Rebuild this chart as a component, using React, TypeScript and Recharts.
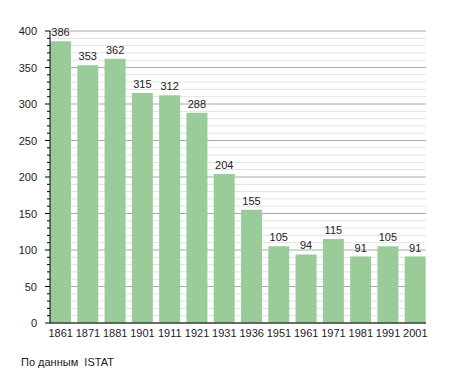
import React from 'react';
import { BarChart, Bar, XAxis, YAxis, CartesianGrid, LabelList } from 'recharts';

// population by census year
const years = ['1861', '1871', '1881', '1901', '1911', '1921', '1931', '1936', '1951', '1961', '1971', '1981', '1991', '2001'];
const population = [386, 353, 362, 315, 312, 288, 204, 155, 105, 94, 115, 91, 105, 91];
const yTicks = [0, 10, 20, 30, 40, 50, 60, 70, 80, 90, 100, 110, 120, 130, 140, 150, 160, 170, 180, 190, 200, 210, 220, 230, 240, 250, 260, 270, 280, 290, 300, 310, 320, 330, 340, 350, 360, 370, 380, 390, 400];
const sourceNote = 'По данным  ISTAT';

const FONT = '"Liberation Sans", Arial, sans-serif';

const data = years.map((year, i) => ({ year, value: population[i] }));

const YTick = (props: any) => {
  const { x, y, payload } = props;
  const major = payload.value % 50 === 0;
  const axisX = x + 8;
  return (
    <g>
      <line x1={axisX - (major ? 5 : 3)} x2={axisX} y1={y} y2={y} stroke="#000" strokeWidth={1} />
      {major && (
        <text x={axisX - 13} y={y} dy={4} textAnchor="end" fontSize={11} fill="#222" fontFamily={FONT}>
          {payload.value}
        </text>
      )}
    </g>
  );
};

const GridLine = (props: any) => {
  const { x1, x2, y1, y2, index } = props;
  const major = index % 5 === 0;
  return (
    <line
      x1={x1}
      x2={x2}
      y1={y1}
      y2={y2}
      stroke={major ? '#a8a8a8' : '#e2e2e2'}
      strokeWidth={1}
    />
  );
};

export default function App() {
  return (
    <div style={{ position: 'absolute', left: 0, top: 0, width: 455, height: 373, background: '#fff' }}>
      <BarChart
        width={455}
        height={373}
        data={data}
        margin={{ top: 31, right: 29, bottom: 30, left: 0 }}
        barSize={21}
      >
        <CartesianGrid vertical={false} horizontal={GridLine} />
        <XAxis
          dataKey="year"
          interval={0}
          padding={{ left: -3, right: -3 }}
          height={20}
          axisLine={{ stroke: '#000' }}
          tickLine={false}
          tick={{ fontSize: 11, fill: '#222', fontFamily: FONT }}
          tickMargin={0}
        />
        <YAxis
          width={50}
          domain={[0, 400]}
          ticks={yTicks}
          interval={0}
          axisLine={{ stroke: '#000' }}
          tickLine={false}
          tick={<YTick />}
        />
        <Bar dataKey="value" fill="#99cc99" isAnimationActive={false}>
          <LabelList dataKey="value" position="top" offset={5} fontSize={11} fill="#222" fontFamily={FONT} />
        </Bar>
      </BarChart>
      <div style={{ position: 'absolute', left: 21, top: 356, fontSize: 11, color: '#222', fontFamily: FONT, whiteSpace: 'pre' }}>
        {sourceNote}
      </div>
    </div>
  );
}
